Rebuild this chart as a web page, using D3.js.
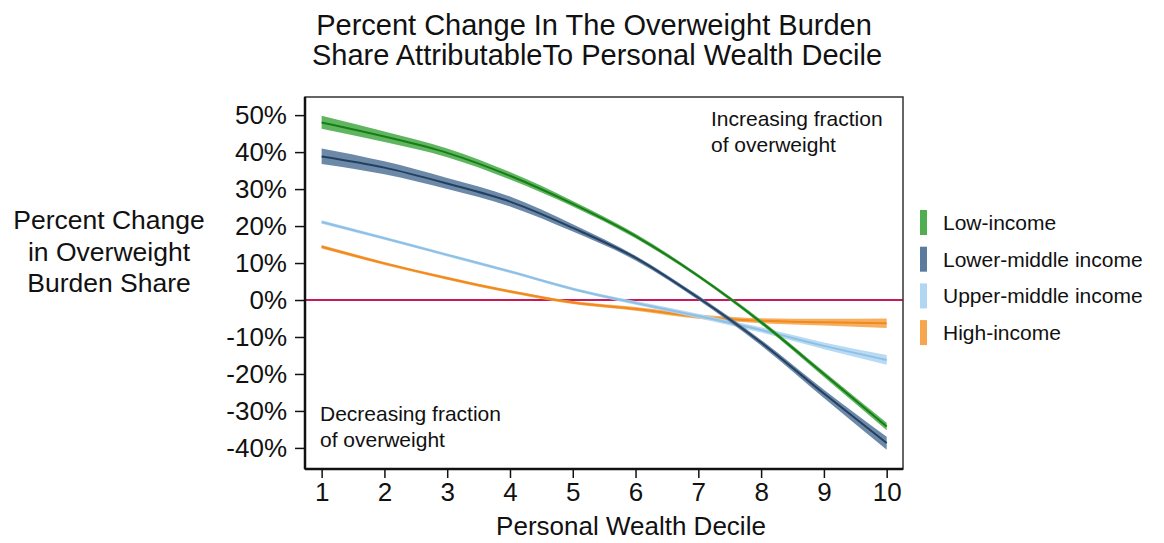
<!DOCTYPE html>
<html>
<head>
<meta charset="utf-8">
<script src="https://cdn.jsdelivr.net/npm/d3@7"></script>
<style>
  body { margin: 0; background: #fff; }
  text { font-family: "Liberation Sans", Arial, sans-serif; fill: #111; }
</style>
</head>
<body>
<div id="vis"></div>
<script>
// deciles on the x axis
let deciles = [1, 2, 3, 4, 5, 6, 7, 8, 9, 10];

// percent change, central estimate and band per income group
let lowMid = [48, 44.2, 39.8, 33.6, 26, 17.3, 6.5, -6, -20, -34.2];
let lowLo  = [46.3, 42.7, 38.6, 32.6, 25.3, 16.7, 6, -6.6, -20.8, -35.2];
let lowHi  = [49.8, 45.6, 41, 34.6, 26.8, 17.9, 7, -5.4, -19.3, -33.2];

let lmMid = [38.8, 35.8, 31.5, 26.6, 19.5, 11.4, 0.6, -11.5, -25.3, -38.7];
let lmLo  = [36.8, 34, 30, 25.3, 18.5, 10.7, 0, -12.3, -26.5, -40.5];
let lmHi  = [41, 37.5, 33, 28, 20.5, 12, 1.2, -10.8, -24.3, -37];

let umMid = [21.1, 16.7, 12.2, 7.7, 3, -0.8, -4.3, -8.1, -12.4, -16.2];
let umLo  = [20.6, 16.3, 11.8, 7.3, 2.6, -1.3, -4.9, -8.8, -13.3, -17.5];
let umHi  = [21.6, 17.1, 12.6, 8.1, 3.4, -0.3, -3.7, -7.4, -11.5, -14.9];

let hiMid = [14.4, 9.9, 5.9, 2.3, -0.7, -2.4, -4.5, -5.6, -6, -6.3];
let hiLo  = [13.9, 9.5, 5.5, 1.9, -1.1, -2.9, -5.1, -6.3, -6.9, -7.6];
let hiHi  = [14.9, 10.3, 6.3, 2.7, -0.3, -1.9, -3.9, -4.9, -5.1, -5];

let groupNames = ['Low-income', 'Lower-middle income', 'Upper-middle income', 'High-income'];
let yTicks = [50, 40, 30, 20, 10, 0, -10, -20, -30, -40];

let groups = [
  { name: groupNames[0], mid: lowMid, lo: lowLo, hi: lowHi, fill: '#4fae4f', line: '#177d17' },
  { name: groupNames[1], mid: lmMid, lo: lmLo, hi: lmHi, fill: '#5c7c9e', line: '#233f62' },
  { name: groupNames[2], mid: umMid, lo: umLo, hi: umHi, fill: '#b0d6f2', line: '#8ec0e6' },
  { name: groupNames[3], mid: hiMid, lo: hiLo, hi: hiHi, fill: '#f7a54f', line: '#f08a1c' }
];

let margin = { top: 97, left: 305, right: 261, bottom: 74 },
  width = 1164 - margin.left - margin.right,
  height = 543 - margin.top - margin.bottom;

let svg = d3.select('#vis')
  .append('svg')
  .attr('width', 1164)
  .attr('height', 543);

let g = svg.append('g')
  .attr('transform', `translate(${margin.left},${margin.top})`);

let x = d3.scaleLinear().domain([0.735, 10.26]).range([0, width]);
let y = d3.scaleLinear().domain([-45.7, 54.9]).range([height, 0]);

// title
svg.append('text')
  .attr('x', 594).attr('y', 35)
  .attr('text-anchor', 'middle')
  .style('font-size', '29px')
  .text('Percent Change In The Overweight Burden');
svg.append('text')
  .attr('x', 597).attr('y', 65)
  .attr('text-anchor', 'middle')
  .style('font-size', '29px')
  .text('Share AttributableTo Personal Wealth Decile');

// zero line
g.append('line')
  .attr('x1', 0).attr('x2', width)
  .attr('y1', y(0)).attr('y2', y(0))
  .attr('stroke', '#c8195a')
  .attr('stroke-width', 2);

let area = d3.area()
  .x((d, i) => x(deciles[i]))
  .y0(d => y(d[0]))
  .y1(d => y(d[1]))
  .curve(d3.curveMonotoneX);

let line = d3.line()
  .x((d, i) => x(deciles[i]))
  .y(d => y(d))
  .curve(d3.curveMonotoneX);

groups.slice().reverse().forEach(function(s) {
  g.append('path')
    .datum(s.lo.map((v, i) => [v, s.hi[i]]))
    .attr('d', area)
    .attr('fill', s.fill)
    .attr('opacity', 0.9);
  g.append('path')
    .datum(s.mid)
    .attr('d', line)
    .attr('fill', 'none')
    .attr('stroke', s.line)
    .attr('stroke-width', 2);
});

// box
g.append('rect')
  .attr('width', width).attr('height', height)
  .attr('fill', 'none')
  .attr('stroke', '#333')
  .attr('stroke-width', 1.5);

let yAxis = g.append('g')
  .call(d3.axisLeft(y).tickValues(yTicks).tickSize(10).tickFormat(d => d + '%'));
let xAxis = g.append('g')
  .attr('transform', `translate(0,${height})`)
  .call(d3.axisBottom(x).tickValues(deciles).tickSize(9).tickFormat(d3.format('d')));

[yAxis, xAxis].forEach(function(a) {
  a.select('.domain').attr('stroke', '#111').attr('stroke-width', 2.5);
  a.selectAll('.tick line').attr('stroke', '#111').attr('stroke-width', 1.5);
  a.selectAll('.tick text').style('font-size', '26px').attr('fill', '#111');
});
yAxis.select('.domain').attr('d', `M0,0V${height}`);
xAxis.select('.domain').attr('d', `M0,0H${width}`);
yAxis.selectAll('.tick text').attr('x', -18);
xAxis.selectAll('.tick text').attr('y', 14);

// annotations
g.append('text').attr('x', 406).attr('y', 29).style('font-size', '21px').text('Increasing fraction');
g.append('text').attr('x', 406).attr('y', 55).style('font-size', '21px').text('of overweight');
g.append('text').attr('x', 15).attr('y', 324).style('font-size', '21px').text('Decreasing fraction');
g.append('text').attr('x', 15).attr('y', 350).style('font-size', '21px').text('of overweight');

// axis titles
svg.append('text')
  .attr('x', 631).attr('y', 535)
  .attr('text-anchor', 'middle')
  .style('font-size', '26px')
  .text('Personal Wealth Decile');

['Percent Change', 'in Overweight', 'Burden Share'].forEach(function(t, i) {
  svg.append('text')
    .attr('x', 109).attr('y', 229 + i * 31.5)
    .attr('text-anchor', 'middle')
    .style('font-size', '26.5px')
    .text(t);
});

// legend
let legend = svg.append('g').attr('transform', 'translate(920,210)');
groups.forEach(function(s, i) {
  legend.append('rect')
    .attr('x', 0).attr('y', i * 36.7)
    .attr('width', 7).attr('height', 25)
    .attr('fill', s.fill);
  legend.append('text')
    .attr('x', 23).attr('y', i * 36.7 + 20)
    .style('font-size', '21px')
    .text(s.name);
});
</script>
</body>
</html>
